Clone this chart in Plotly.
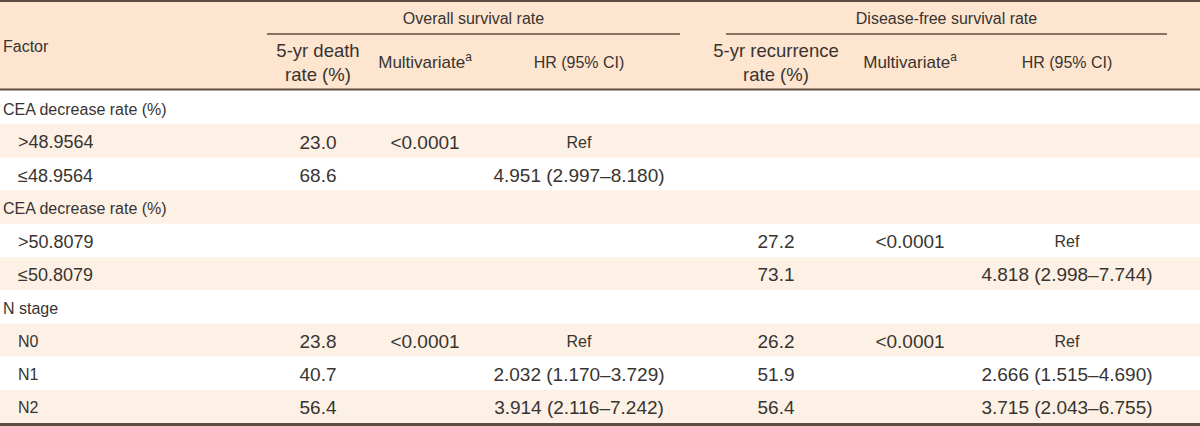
import plotly.graph_objects as go

# ---------------- data ----------------
factor_labels = ["CEA decrease rate (%)", ">48.9564", "≤48.9564",
                 "CEA decrease rate (%)", ">50.8079", "≤50.8079",
                 "N stage", "N0", "N1", "N2"]
factor_indent = [0, 1, 1, 0, 1, 1, 0, 1, 1, 1]
os_death_rate = ["", "23.0", "68.6", "", "", "", "", "23.8", "40.7", "56.4"]
os_multivariate = ["", "<0.0001", "", "", "", "", "", "<0.0001", "", ""]
os_hr = ["", "Ref", "4.951 (2.997–8.180)", "", "", "", "", "Ref",
         "2.032 (1.170–3.729)", "3.914 (2.116–7.242)"]
dfs_recur_rate = ["", "", "", "", "27.2", "73.1", "", "26.2", "51.9", "56.4"]
dfs_multivariate = ["", "", "", "", "<0.0001", "", "", "<0.0001", "", ""]
dfs_hr = ["", "", "", "", "Ref", "4.818 (2.998–7.744)", "", "Ref",
          "2.666 (1.515–4.690)", "3.715 (2.043–6.755)"]

group_titles = ["Overall survival rate", "Disease-free survival rate"]
sub_headers = ["5-yr death<br>rate (%)", "Multivariate<sup>a</sup>", "HR (95% CI)",
               "5-yr recurrence<br>rate (%)", "Multivariate<sup>a</sup>", "HR (95% CI)"]
factor_header = "Factor"

# ---------------- layout constants ----------------
W, H = 1200, 426
FONT = "Liberation Sans, Arial, sans-serif"
TXT = "#383431"
HEADER_BG = "#fde5cf"
BAND_BG = "#fdf1e6"
RULE = "#5e4e42"
FS_TEXT = 16
FS_NUM = 19
FS_FACTOR_NUM = 18
TEXT_DY = 3.0          # optical shift of text centres

col_x = [318, 425, 579, 776, 910, 1067]
group_spans = [(267, 680), (726, 1167)]
header_bottom = 90
body_top = 91
body_bottom = 423
n_rows = len(factor_labels)
row_h = (body_bottom - body_top) / n_rows
row_y = [body_top + row_h * (i + 0.5) + TEXT_DY for i in range(n_rows)]


def value_size(s):
    return FS_NUM if s[:1].isdigit() or s[:1] == "<" else FS_TEXT


def factor_size(s):
    return FS_FACTOR_NUM if s[:1] in "><≤≥" else FS_TEXT


def header_size(s):
    if s[:1].isdigit():
        return 18.5
    if s.startswith("Multi"):
        return 17
    return FS_TEXT


def text_trace(xs, ys, texts, pos, size):
    keep = [(x, y, t) for x, y, t in zip(xs, ys, texts) if t]
    sz = [size(k[2]) for k in keep] if callable(size) else size
    return go.Scatter(
        x=[k[0] for k in keep], y=[k[1] for k in keep], mode="text",
        text=[k[2] for k in keep], textposition=pos,
        textfont=dict(family=FONT, size=sz, color=TXT),
        hoverinfo="skip", showlegend=False)


fig = go.Figure()
shapes = []
shapes.append(dict(type="rect", xref="x", yref="y", x0=0, x1=W, y0=0, y1=header_bottom,
                   fillcolor=HEADER_BG, line_width=0, layer="below"))
for i in range(n_rows):
    if i % 2 == 1:
        shapes.append(dict(type="rect", xref="x", yref="y", x0=0, x1=W,
                           y0=body_top + row_h * i, y1=body_top + row_h * (i + 1),
                           fillcolor=BAND_BG, line_width=0, layer="below"))
shapes.append(dict(type="line", xref="x", yref="y", x0=0, x1=W, y0=1, y1=1,
                   line=dict(color=RULE, width=2)))
shapes.append(dict(type="line", xref="x", yref="y", x0=0, x1=W, y0=header_bottom - 0.5,
                   y1=header_bottom - 0.5, line=dict(color=RULE, width=2)))
shapes.append(dict(type="line", xref="x", yref="y", x0=0, x1=W, y0=424.5, y1=424.5,
                   line=dict(color=RULE, width=3)))
for (a, b) in group_spans:
    shapes.append(dict(type="line", xref="x", yref="y", x0=a, x1=b, y0=34, y1=34,
                       line=dict(color=RULE, width=1.5)))

# header
fig.add_trace(text_trace([(a + b) / 2 for a, b in group_spans], [19.5, 19.5],
                         group_titles, "middle center", FS_TEXT))
fig.add_trace(text_trace(col_x, [64] * len(col_x), sub_headers, "middle center", header_size))
fig.add_trace(text_trace([3], [48], [factor_header], "middle right", FS_TEXT))

# factor column
fig.add_trace(text_trace([3 + 15 * ind for ind in factor_indent], row_y,
                         factor_labels, "middle right", factor_size))

# value columns
for cx, col in zip(col_x, [os_death_rate, os_multivariate, os_hr,
                           dfs_recur_rate, dfs_multivariate, dfs_hr]):
    fig.add_trace(text_trace([cx] * n_rows, row_y, col, "middle center", value_size))

fig.update_layout(
    width=W, height=H, margin=dict(l=0, r=0, t=0, b=0),
    paper_bgcolor="white", plot_bgcolor="white", shapes=shapes,
    xaxis=dict(range=[0, W], visible=False, fixedrange=True),
    yaxis=dict(range=[H, 0], visible=False, fixedrange=True),
)
fig.write_html("out.html", config={"displayModeBar": False},
               post_script="document.body.style.margin='0';document.body.style.overflow='hidden';")
